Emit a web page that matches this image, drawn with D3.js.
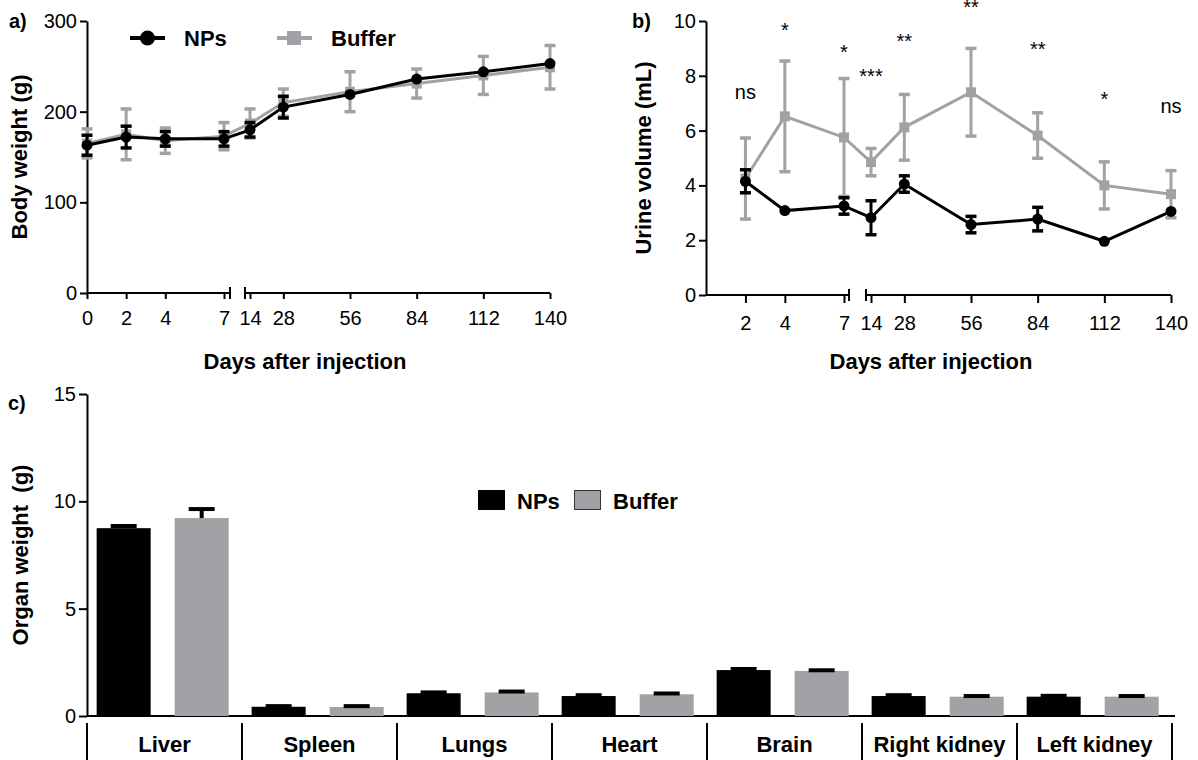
<!DOCTYPE html>
<html><head><meta charset="utf-8">
<script src="https://cdn.jsdelivr.net/npm/d3@7"></script>
<style>
body{margin:0;background:#fff;}
svg{font-family:"Liberation Sans", Arial, Helvetica, sans-serif;}
</style></head><body>
<svg id="chart" width="1198" height="760"></svg>
<script>
// ---------- DATA ----------
// Panel a: body weight (g)
const daysA = [0, 2, 4, 7, 14, 28, 56, 84, 112, 140];
const npsWeight = [163, 172, 170, 170, 180, 205, 219, 236, 244, 253];
const npsWeightErr = [11, 12, 8, 8, 8, 12, 4, 4, 4, 4];
const bufWeight = [165, 175, 168, 173, 187, 210, 222, 231, 240, 249];
const bufWeightErr = [16, 28, 14, 15, 16, 15, 22, 16, 21, 24];
const weightTicks = [0, 100, 200, 300];
const dayTicksA1 = [0, 2, 4, 7];
const dayTicksA2 = [14, 28, 56, 84, 112, 140];

// Panel b: urine volume (mL)
const daysB = [2, 4, 7, 14, 28, 56, 84, 112, 140];
const npsUrine = [4.15, 3.08, 3.25, 2.82, 4.05, 2.57, 2.77, 1.96, 3.05];
const npsUrineErr = [0.42, 0.1, 0.3, 0.62, 0.3, 0.3, 0.43, 0.08, 0.15];
const bufUrine = [4.25, 6.52, 5.75, 4.85, 6.12, 7.4, 5.82, 4.0, 3.68];
const bufUrineErr = [1.48, 2.02, 2.15, 0.5, 1.2, 1.6, 0.83, 0.86, 0.86];
const sigLabels = ["ns", "*", "*", "***", "**", "**", "**", "*", "ns"];
const sigLevel = [7.14, 9.43, 8.63, 7.72, 9.0, 10.24, 8.74, 6.88, 6.65];
const urineTicks = [0, 2, 4, 6, 8, 10];
const dayTicksB1 = [2, 4, 7];
const dayTicksB2 = [14, 28, 56, 84, 112, 140];

// Panel c: organ weight (g)
const organs = ["Liver", "Spleen", "Lungs", "Heart", "Brain", "Right kidney", "Left kidney"];
const npsOrgan = [8.75, 0.43, 1.06, 0.93, 2.14, 0.93, 0.9];
const npsOrganErr = [0.1, 0.03, 0.04, 0.04, 0.05, 0.04, 0.04];
const bufOrgan = [9.22, 0.42, 1.1, 1.01, 2.1, 0.9, 0.9];
const bufOrganErr = [0.42, 0.04, 0.04, 0.04, 0.03, 0.03, 0.03];
const organTicks = [0, 5, 10, 15];
const seriesNames = ["NPs", "Buffer"];

// ---------- STYLE ----------
const BLACK = "#000";
const GRAY = "#a2a2a6";
const svg = d3.select("#chart");

function styleAxis(g, fs) {
  g.selectAll("path.domain").attr("stroke", BLACK).attr("stroke-width", 2);
  g.selectAll(".tick line").attr("stroke", BLACK).attr("stroke-width", 2);
  g.selectAll(".tick text").attr("fill", BLACK).attr("font-size", fs)
    .attr("font-family", '"Liberation Sans", Arial, sans-serif');
}

function linePanel(o) {
  const g = svg.append("g");
  const y = d3.scaleLinear().domain(o.yDomain).range(o.yRange);
  const s1 = d3.scaleLinear().domain(o.seg1).range(o.r1);
  const s2 = d3.scaleLinear().domain(o.seg2).range(o.r2);
  const xf = d => d <= o.seg1[1] ? s1(d) : s2(d);
  const y0 = o.yRange[0];
  const fmt = d3.format("d");

  // y axis
  const ya = g.append("g").attr("transform", `translate(${o.r1[0]},0)`)
    .call(d3.axisLeft(y).tickValues(o.yTicks).tickFormat(fmt).tickSize(7).tickPadding(3).tickSizeOuter(0));
  styleAxis(ya, 20);

  // x axis segments
  [[s1, o.t1], [s2, o.t2]].forEach(([s, t]) => {
    const xa = g.append("g").attr("transform", `translate(0,${y0})`)
      .call(d3.axisBottom(s).tickValues(t).tickFormat(fmt).tickSize(o.xTickSize).tickPadding(o.xTickPad).tickSizeOuter(0));
    xa.select("path.domain").remove();
    styleAxis(xa, 20);
  });
  g.append("line").attr("x1", o.r1[0]).attr("x2", o.b1).attr("y1", y0).attr("y2", y0)
    .attr("stroke", BLACK).attr("stroke-width", 2);
  g.append("line").attr("x1", o.b2).attr("x2", o.r2[1]).attr("y1", y0).attr("y2", y0)
    .attr("stroke", BLACK).attr("stroke-width", 2);
  [o.b1, o.b2].forEach(b => g.append("line").attr("x1", b).attr("x2", b)
    .attr("y1", y0 - 6).attr("y2", y0 + 6).attr("stroke", BLACK).attr("stroke-width", 2));

  // series: buffer first, NPs on top
  o.series.forEach(se => {
    const pts = o.days.map((d, i) => ({d, v: se.v[i], e: se.e[i]}));
    const sg = g.append("g");
    sg.append("path").datum(pts)
      .attr("d", d3.line().x(p => xf(p.d)).y(p => y(p.v)))
      .attr("fill", "none").attr("stroke", se.color).attr("stroke-width", 3);
    // error bars hidden when shorter than the marker (as in the original software)
    const vis = pts.filter(p => Math.abs(y(p.v) - y(p.v + p.e)) > 5.5);
    const eb = sg.selectAll("g.eb").data(vis).join("g");
    eb.append("line").attr("x1", p => xf(p.d)).attr("x2", p => xf(p.d))
      .attr("y1", p => y(p.v - p.e)).attr("y2", p => y(p.v + p.e))
      .attr("stroke", se.color).attr("stroke-width", 3);
    [-1, 1].forEach(sgn => eb.append("line")
      .attr("x1", p => xf(p.d) - 5.5).attr("x2", p => xf(p.d) + 5.5)
      .attr("y1", p => y(p.v + sgn * p.e)).attr("y2", p => y(p.v + sgn * p.e))
      .attr("stroke", se.color).attr("stroke-width", 3.5));
    if (se.shape === "circle") {
      sg.selectAll("circle").data(pts).join("circle")
        .attr("cx", p => xf(p.d)).attr("cy", p => y(p.v)).attr("r", 5.5).attr("fill", se.color);
    } else {
      sg.selectAll("rect").data(pts).join("rect")
        .attr("x", p => xf(p.d) - 5).attr("y", p => y(p.v) - 5)
        .attr("width", 10).attr("height", 10).attr("fill", se.color);
    }
  });

  // labels
  g.append("text").attr("x", o.xLabelX).attr("y", 369).attr("text-anchor", "middle")
    .attr("font-size", 22).attr("font-weight", "bold").text("Days after injection");
  g.append("text").attr("transform", `translate(${o.yLabelX},${(o.yRange[0] + o.yRange[1]) / 2}) rotate(-90)`)
    .attr("text-anchor", "middle").attr("font-size", 22).attr("font-weight", "bold").text(o.yLabel);
  g.append("text").attr("x", o.tagX).attr("y", 28).attr("font-size", 20).attr("font-weight", "bold").text(o.tag);
  return {g, xf, y};
}

// ---------- PANEL A ----------
const pa = linePanel({
  yDomain: [0, 300], yRange: [293, 21], yTicks: weightTicks,
  seg1: [0, 7], r1: [87, 224], seg2: [14, 140], r2: [250, 550], b1: 230, b2: 245,
  t1: dayTicksA1, t2: dayTicksA2, xTickSize: 6, xTickPad: 12,
  days: daysA,
  series: [
    {v: bufWeight, e: bufWeightErr, color: GRAY, shape: "square"},
    {v: npsWeight, e: npsWeightErr, color: BLACK, shape: "circle"}
  ],
  xLabelX: 305, yLabelX: 27, yLabel: "Body weight (g)", tagX: 9, tag: "a)"
});
// legend a
const la = pa.g.append("g");
la.append("line").attr("x1", 130).attr("x2", 165).attr("y1", 38).attr("y2", 38).attr("stroke", BLACK).attr("stroke-width", 4);
la.append("circle").attr("cx", 147.5).attr("cy", 38).attr("r", 7.5).attr("fill", BLACK);
la.append("text").attr("x", 184).attr("y", 46).attr("font-size", 22).attr("font-weight", "bold").text(seriesNames[0]);
la.append("line").attr("x1", 277).attr("x2", 312).attr("y1", 38).attr("y2", 38).attr("stroke", GRAY).attr("stroke-width", 4);
la.append("rect").attr("x", 287).attr("y", 31).attr("width", 14).attr("height", 14).attr("fill", GRAY);
la.append("text").attr("x", 331).attr("y", 46).attr("font-size", 22).attr("font-weight", "bold").text(seriesNames[1]);

// ---------- PANEL B ----------
const pb = linePanel({
  yDomain: [0, 10], yRange: [295, 21], yTicks: urineTicks,
  seg1: [0, 7], r1: [706, 844], seg2: [14, 140], r2: [871, 1171], b1: 849, b2: 866,
  t1: dayTicksB1, t2: dayTicksB2, xTickSize: 8, xTickPad: 13,
  days: daysB,
  series: [
    {v: bufUrine, e: bufUrineErr, color: GRAY, shape: "square"},
    {v: npsUrine, e: npsUrineErr, color: BLACK, shape: "circle"}
  ],
  xLabelX: 931, yLabelX: 651, yLabel: "Urine volume (mL)", tagX: 632, tag: "b)"
});
pb.g.selectAll("text.sig").data(daysB.map((d, i) => ({d, t: sigLabels[i], v: sigLevel[i]})))
  .join("text").attr("class", "sig")
  .attr("x", p => pb.xf(p.d)).attr("y", p => pb.y(p.v))
  .attr("text-anchor", "middle").attr("font-size", 20).attr("fill", BLACK).text(p => p.t);

// ---------- PANEL C ----------
const gc = svg.append("g");
const yc = d3.scaleLinear().domain([0, 15]).range([716, 394]);
const x0 = d3.scaleBand().domain(organs).range([87, 1172]).paddingInner(0).paddingOuter(0);
const x1 = d3.scaleBand().domain(seriesNames).range([0, x0.bandwidth()])
  .paddingInner(0.3077).paddingOuter(0.147).align(0.42);
const cya = gc.append("g").attr("transform", "translate(87,0)")
  .call(d3.axisLeft(yc).tickValues(organTicks).tickSize(8).tickPadding(3).tickSizeOuter(0));
styleAxis(cya, 20);
gc.append("line").attr("x1", 87).attr("x2", 1175).attr("y1", 716).attr("y2", 716)
  .attr("stroke", BLACK).attr("stroke-width", 2);

const barData = [];
organs.forEach((o, i) => {
  barData.push({o, s: "NPs", v: npsOrgan[i], e: npsOrganErr[i], c: BLACK});
  barData.push({o, s: "Buffer", v: bufOrgan[i], e: bufOrganErr[i], c: GRAY});
});
const bx = d => x0(d.o) + x1(d.s);
gc.selectAll("rect.bar").data(barData).join("rect").attr("class", "bar")
  .attr("x", bx).attr("width", x1.bandwidth())
  .attr("y", d => yc(d.v)).attr("height", d => yc(0) - yc(d.v)).attr("fill", d => d.c);
gc.selectAll("line.stem").data(barData).join("line").attr("class", "stem")
  .attr("x1", d => bx(d) + x1.bandwidth() / 2).attr("x2", d => bx(d) + x1.bandwidth() / 2)
  .attr("y1", d => yc(d.v)).attr("y2", d => yc(d.v + d.e)).attr("stroke", BLACK).attr("stroke-width", 4);
gc.selectAll("line.cap").data(barData).join("line").attr("class", "cap")
  .attr("x1", d => bx(d) + x1.bandwidth() / 2 - 13).attr("x2", d => bx(d) + x1.bandwidth() / 2 + 13)
  .attr("y1", d => yc(d.v + d.e)).attr("y2", d => yc(d.v + d.e)).attr("stroke", BLACK).attr("stroke-width", 4);

// group separators & labels
const seps = d3.range(organs.length + 1).map(i => x0.range()[0] + i * x0.step());
gc.selectAll("line.sep").data(seps).join("line").attr("class", "sep")
  .attr("x1", d => d).attr("x2", d => d).attr("y1", 723).attr("y2", 760)
  .attr("stroke", BLACK).attr("stroke-width", 2);
gc.selectAll("text.cat").data(organs).join("text").attr("class", "cat")
  .attr("x", d => x0(d) + x0.bandwidth() / 2).attr("y", 752).attr("text-anchor", "middle")
  .attr("font-size", 22).attr("font-weight", "bold").text(d => d);

gc.append("text").attr("transform", `translate(28,555) rotate(-90)`).attr("text-anchor", "middle")
  .attr("font-size", 22).attr("font-weight", "bold")
  .style("white-space", "pre").text("Organ weight  (g)");
gc.append("text").attr("x", 8).attr("y", 410).attr("font-size", 20).attr("font-weight", "bold").text("c)");

// legend c
const lc = gc.append("g");
lc.append("rect").attr("x", 478).attr("y", 490).attr("width", 27).attr("height", 20).attr("fill", BLACK);
lc.append("text").attr("x", 517).attr("y", 509).attr("font-size", 22).attr("font-weight", "bold").text(seriesNames[0]);
lc.append("rect").attr("x", 574.5).attr("y", 490.5).attr("width", 26).attr("height", 19).attr("fill", GRAY)
  .attr("stroke", "#333").attr("stroke-width", 1);
lc.append("text").attr("x", 613).attr("y", 509).attr("font-size", 22).attr("font-weight", "bold").text(seriesNames[1]);
</script>
</body></html>
